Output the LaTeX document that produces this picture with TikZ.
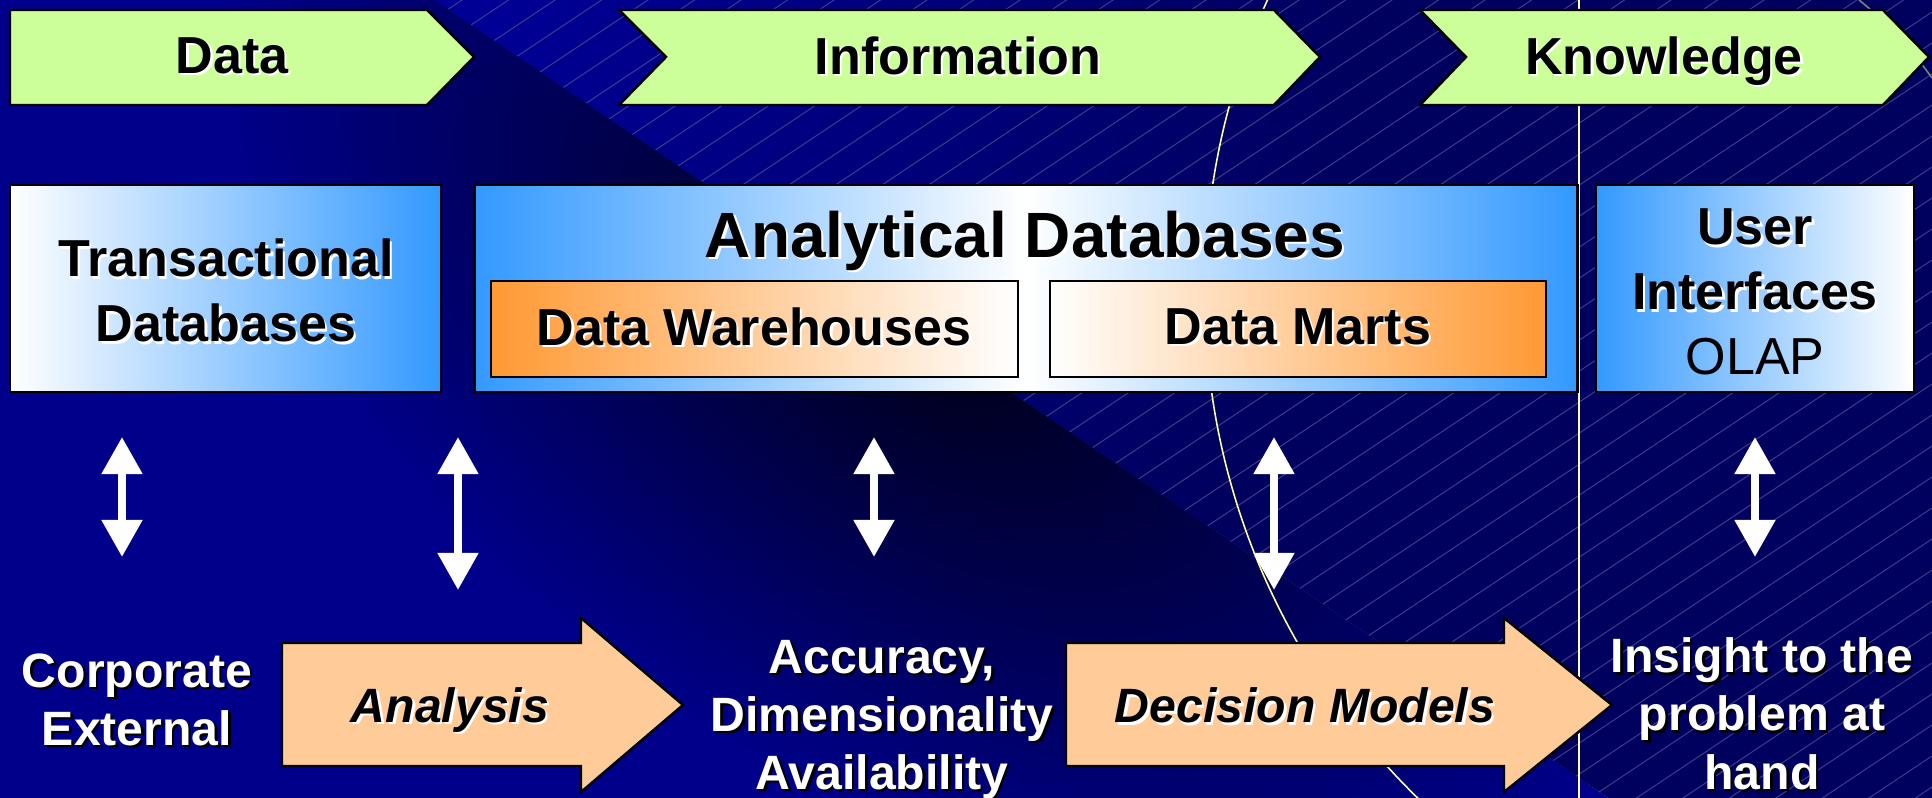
\documentclass[tikz,border=0pt]{standalone}
\usepackage{fontspec}
\setmainfont{Liberation Sans}
\usetikzlibrary{arrows.meta}

\definecolor{navybg}{HTML}{00008A}
\definecolor{darkbg}{HTML}{000018}
\definecolor{hatchbg}{HTML}{00005E}
\definecolor{hatchtop}{HTML}{000096}
\definecolor{hatchln}{HTML}{42428E}
\definecolor{guideyel}{HTML}{FFFF99}
\definecolor{chevgreen}{HTML}{CCFF99}
\definecolor{peach}{HTML}{FFCC99}
\definecolor{dbblue}{HTML}{3399FF}
\definecolor{dborange}{HTML}{FF9933}

% text with a small offset shadow
\newcommand{\shd}[2]{\leavevmode\rlap{\kern0.7pt\raisebox{-0.7pt}{\color{#1}#2}}#2}

\tikzset{
  chevron/.style={draw=black, line width=0.7pt, fill=chevgreen},
  dbbox/.style={draw=black, line width=0.7pt, inner sep=0pt},
  bigarrow/.style={draw=black, line width=0.7pt, fill=peach},
  updown/.style={white, line width=0.08cm,
    {Triangle[width=0.39cm,length=0.37cm]}-{Triangle[width=0.39cm,length=0.37cm]}},
  hatchline/.style={hatchln, line width=0.25pt},
  guide/.style={guideyel, line width=0.45pt},
  faint/.style={gray, line width=0.45pt},
  stage/.style={font=\fontsize{14.8}{18}\selectfont\bfseries, text=black},
  boxtxt/.style={font=\fontsize{14.8}{18.5}\selectfont\bfseries, text=black, align=center},
  bigtxt/.style={font=\fontsize{18.2}{22}\selectfont\bfseries, text=black},
  steptxt/.style={font=\fontsize{13.7}{16.5}\selectfont\bfseries\itshape, text=black},
  outtxt/.style={font=\fontsize{13.7}{16.5}\selectfont\bfseries, text=white, align=center}
}

\begin{document}
\begin{tikzpicture}[x=0.01cm, y=-0.01cm]
\useasboundingbox (0,0) rectangle (1932,798);

% background, left part
\begin{scope}
\clip (0,0) -- (435,0) -- (1608,798) -- (0,798) -- cycle;
\fill[navybg] (0,0) rectangle (1932,798);
\begin{scope}[transform canvas={shift={(930,330)}, rotate=-34}]
\shade[inner color=darkbg, outer color=navybg] (0,0) ellipse [x radius=8cm, y radius=4.6cm];
\end{scope}
\end{scope}

% background, right part
\begin{scope}
\clip (435,0) -- (1932,0) -- (1932,798) -- (1608,798) -- cycle;
\fill[hatchbg] (0,0) rectangle (1932,798);
\shade[inner color=hatchtop, outer color=hatchbg] (480,0) circle [radius=9cm];
\foreach \c in {29,60,...,2100}
  \draw[hatchline] (0,\c) -- (1932,\c-1288);
\end{scope}

\draw[guide] (1912,292) circle [radius=7.07cm];
\draw[guide] (1579,0) -- (1579,798);
\draw[faint] (1859,0) .. controls (1890,25) and (1912,50) .. (1932,78);

% stages
\draw[chevron] (10,10) -- (427,10) -- (474,57) -- (427,105) -- (10,105) -- cycle;
\draw[chevron] (619,10) -- (1274,10) -- (1320,57) -- (1274,105) -- (619,105) -- (666,57) -- cycle;
\draw[chevron] (1420,10) -- (1883,10) -- (1929,57) -- (1883,105) -- (1420,105) -- (1466,57) -- cycle;
\node[stage] (data) at (232,57) {\shd{white}{Data}};
\node[stage] (info) at (958,57) {\shd{white}{Information}};
\node[stage] (know) at (1664,62) {\shd{white}{Knowledge}};

% databases
\node[dbbox, left color=white, right color=dbblue, minimum width=4.31cm, minimum height=2.07cm] (trans) at (225.5,288.5) {};
\node[dbbox, left color=dbblue, right color=dbblue, middle color=white, minimum width=11.02cm, minimum height=2.07cm] (anal) at (1026,288.5) {};
\node[dbbox, left color=dborange, right color=white, minimum width=5.27cm, minimum height=0.96cm] (dwh) at (754.5,329) {};
\node[dbbox, left color=white, right color=dborange, minimum width=4.96cm, minimum height=0.96cm] (dmart) at (1298,329) {};
\node[dbbox, left color=dbblue, right color=white, minimum width=3.18cm, minimum height=2.07cm] (ui) at (1755,288.5) {};

\node[boxtxt] (transt) at (226,292) {\shd{white}{Transactional}\\\shd{white}{Databases}};
\node[bigtxt] (analt) at (1025,242) {\shd{white}{Analytical Databases}};
\node[boxtxt] (dwht) at (754,328) {\shd{white}{Data Warehouses}};
\node[boxtxt] (dmartt) at (1298,328) {\shd{white}{Data Marts}};
\node[boxtxt] (uit) at (1755,292) {\shd{white}{User}\\\shd{white}{Interfaces}\\\mdseries OLAP};

% up/down links
\foreach \n/\x/\y in {1/122/557, 2/458/590, 3/874/557, 4/1274/590, 5/1755/557} {
  \coordinate (top\n) at (\x,437);
  \coordinate (bot\n) at (\x,\y);
  \draw[updown] (top\n) -- (bot\n);
}

% steps
\draw[bigarrow] (282,643) -- (581,643) -- (581,618) -- (683,705) -- (581,792) -- (581,766) -- (282,766) -- cycle;
\draw[bigarrow] (1066,643) -- (1504,643) -- (1504,618) -- (1612,705) -- (1504,792) -- (1504,766) -- (1066,766) -- cycle;
\node[steptxt] (anly) at (450,711) {\shd{white}{Analysis}};
\node[steptxt] (dmod) at (1305,707) {\shd{white}{Decision Models}};

% outcomes
\node[outtxt] (corp) at (137,701) {\shd{black}{Corporate}\\\shd{black}{External}};
\node[outtxt] (accu) at (882,721) {\shd{black}{Accuracy,}\\\shd{black}{Dimensionality}\\\shd{black}{Availability}};
\node[outtxt] (insi) at (1762,715) {\shd{black}{Insight to the}\\\shd{black}{problem at}\\\shd{black}{hand}};

\end{tikzpicture}
\end{document}
